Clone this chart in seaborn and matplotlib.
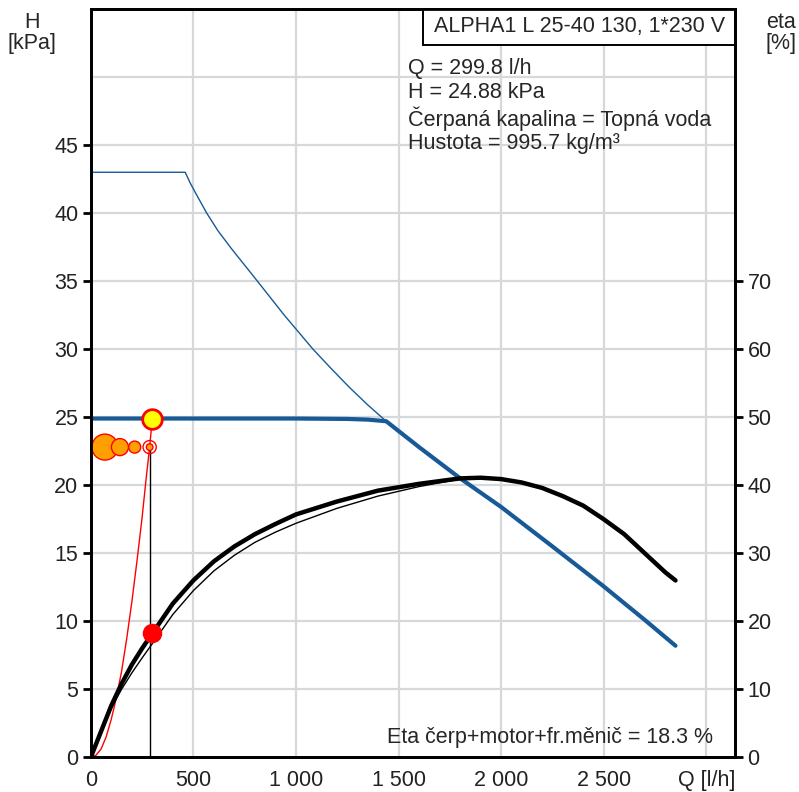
import matplotlib
matplotlib.use("Agg")
import matplotlib.pyplot as plt
import seaborn as sns
from matplotlib.patches import Rectangle

# --- data ---
# max curve (thin blue), H [kPa]
max_q = [0, 460, 485, 510, 565, 620, 685, 812, 943, 1083, 1170, 1260, 1350, 1440, 1600, 1801, 2000, 2250, 2497, 2700, 2850]
max_h = [43.0, 43.0, 42.2, 41.5, 40.0, 38.7, 37.4, 35.0, 32.5, 30.0, 28.6, 27.2, 25.9, 24.7, 22.8, 20.5, 18.4, 15.5, 12.6, 10.1, 8.2]

# actual setting (thick blue), H [kPa]
set_q = [0, 1000, 1250, 1350, 1440, 1600, 1801, 2000, 2250, 2497, 2700, 2850]
set_h = [24.9, 24.9, 24.87, 24.82, 24.7, 22.8, 20.5, 18.4, 15.5, 12.6, 10.1, 8.2]

# efficiency, eta [%] (thick = pump+motor+converter, thin = second curve)
eta_q = [0, 50, 100, 150, 200, 250, 300, 400, 500, 600, 700, 800, 900, 1000, 1200, 1400,
         1600, 1800, 1900, 2000, 2100, 2200, 2300, 2400, 2500, 2600, 2700, 2800, 2850]
eta_thick = [0, 3.8, 7.6, 10.8, 13.6, 16.0, 18.2, 22.6, 26.0, 28.8, 31.0, 32.8, 34.3, 35.7,
             37.6, 39.2, 40.2, 41.0, 41.1, 40.9, 40.4, 39.6, 38.4, 37.0, 35.0, 32.8, 30.0, 27.2, 26.0]
eta2_q = [0, 50, 100, 150, 200, 250, 300, 400, 500, 600, 700, 800, 900, 1000, 1200, 1400, 1600, 1800]
eta_thin = [0, 3.6, 7.2, 10.0, 12.4, 14.6, 16.7, 21.0, 24.5, 27.4, 29.7, 31.6, 33.1, 34.4,
            36.6, 38.4, 39.8, 40.9]

# system curve (red)
sys_q = [0, 25, 50, 75, 100, 125, 150, 175, 200, 225, 250, 270, 287, 299.8]
sys_h = [0, 0.15, 0.6, 1.5, 2.8, 4.4, 6.3, 8.7, 11.4, 14.4, 17.6, 20.5, 22.8, 24.88]

# duty point
op_q, op_h, op_eta = 299.8, 24.88, 18.3
ref_q, ref_h = 287, 22.8
bubble_q = [69, 142, 214, 287]
bubble_s = [350, 150, 75, 23]

x_ticks = [0, 500, 1000, 1500, 2000, 2500, 3000]
x_labels = ["0", "500", "1 000", "1 500", "2 000", "2 500", "Q [l/h]"]
h_ticks = [0, 5, 10, 15, 20, 25, 30, 35, 40, 45]
eta_ticks = [0, 10, 20, 30, 40, 50, 60, 70]

info_lines = ["Q = 299.8 l/h", "H = 24.88 kPa",
              "Čerpaná kapalina = Topná voda", "Hustota = 995.7 kg/m³"]

sns.set_style("white")
plt.rcParams['font.family'] = ['Liberation Sans', 'DejaVu Sans']

BLUE = "#175a96"
GRID = "#d6d9dc"
FS = 15.5

fig = plt.figure(figsize=(7.99, 7.92), dpi=100)
ax = fig.add_axes([0.1136, 0.0438, 0.9199 - 0.1136, 0.98864 - 0.0438])
ax2 = ax.twinx()

ax.set_xlim(0, 3140)
ax.set_ylim(0, 55)
ax2.set_ylim(0, 110)

for v in range(500, 3001, 500):
    ax.axvline(v, color=GRID, lw=1.6, zorder=0)
for v in range(5, 51, 5):
    ax.axhline(v, color=GRID, lw=1.6, zorder=0)

# H curves
sns.lineplot(x=max_q, y=max_h, ax=ax, color=BLUE, linewidth=1.0)
sns.lineplot(x=set_q, y=set_h, ax=ax, color=BLUE, linewidth=3.0)
sns.lineplot(x=sys_q, y=sys_h, ax=ax, color="red", linewidth=1.0)
ax.plot([ref_q, ref_q], [0, ref_h], color="black", lw=1.0)

# efficiency curves
sns.lineplot(x=eta2_q, y=eta_thin, ax=ax2, color="black", linewidth=1.0)
sns.lineplot(x=eta_q, y=eta_thick, ax=ax2, color="black", linewidth=3.2)

# markers
sns.scatterplot(x=bubble_q, y=[ref_h] * len(bubble_q), size=bubble_s, sizes=(min(bubble_s), max(bubble_s)),
                ax=ax, color="#ffa000", edgecolor="red", linewidth=1.0, legend=False, zorder=5)
ax.scatter([ref_q], [ref_h], s=90, facecolor="none", edgecolor="red", linewidth=1.0, zorder=6)
ax.scatter([op_q], [op_h], s=200, color="#ffff00", edgecolor="red", linewidth=2.0, zorder=7)
ax2.scatter([op_q], [op_eta], s=170, color="red", edgecolor="red", zorder=7)

# axes styling
for a in (ax, ax2):
    for sp in a.spines.values():
        sp.set_linewidth(2.0)
        sp.set_color("black")
ax.set_xticks(x_ticks)
ax.set_xticklabels(x_labels)
ax.set_yticks(h_ticks)
ax2.set_yticks(eta_ticks)
ax.tick_params(direction="out", length=6, width=2, labelsize=FS, color="black", labelcolor="#222222", pad=3)
ax2.tick_params(direction="out", length=6, width=2, labelsize=FS, color="black", labelcolor="#222222", pad=3)
ax.set_xlabel("")
ax.set_ylabel("")
ax2.set_ylabel("")

# header box and info text
ax.add_patch(Rectangle((0.5155, 0.952), 0.4845, 0.048, transform=ax.transAxes,
                       facecolor="white", edgecolor="black", lw=1.4, zorder=8, clip_on=False))
ax.text(0.758, 0.976, "ALPHA1 L 25-40 130, 1*230 V", transform=ax.transAxes,
        ha="center", va="center", fontsize=FS, zorder=9)
for y, line in zip([0.921, 0.888, 0.854, 0.820], info_lines):
    ax.text(0.4924, y, line, transform=ax.transAxes, ha="left", va="center", fontsize=FS, zorder=9)
ax.text(0.966, 0.026, "Eta čerp+motor+fr.měnič = 18.3 %", transform=ax.transAxes,
        ha="right", va="center", fontsize=FS, zorder=9)

fig.text(0.040, 0.958, "H\n[kPa]", ha="center", va="center", fontsize=FS, linespacing=1.0)
fig.text(0.977, 0.958, "eta\n[%]", ha="center", va="center", fontsize=FS, linespacing=1.0)

fig.savefig("out.png", dpi=100)
